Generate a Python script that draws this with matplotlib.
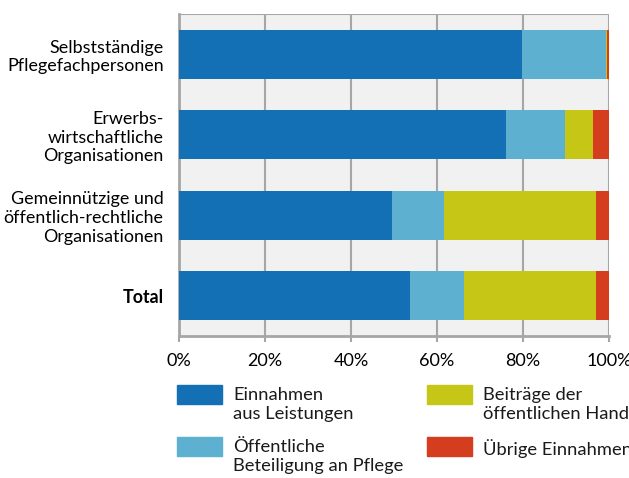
import matplotlib.pyplot as plt
from matplotlib.patches import Rectangle

plt.rcParams['font.family'] = ['Lato', 'DejaVu Sans']

# Kategorien (von oben nach unten)
kategorien = ["Selbstständige\nPflegefachpersonen",
              "Erwerbs-\nwirtschaftliche\nOrganisationen",
              "Gemeinnützige und\nöffentlich-rechtliche\nOrganisationen",
              "Total"]

# Anteile in %
einnahmen_leistungen = [79.8, 76.0, 49.5, 53.7]
oeffentl_beteiligung = [19.4, 13.8, 12.1, 12.6]
beitraege_hand = [0.3, 6.5, 35.4, 30.7]
uebrige = [0.5, 3.7, 3.0, 3.0]

serien = ["Einnahmen\naus Leistungen",
          "Öffentliche\nBeteiligung an Pflege",
          "Beiträge der\nöffentlichen Hand",
          "Übrige Einnahmen"]
farben = ["#1470b4", "#5db0d0", "#c6c617", "#d43d1e"]

W, H = 629, 478
fig = plt.figure(figsize=(W / 100, H / 100), dpi=100)
ax = fig.add_axes([179 / W, 1 - 336 / H, 430 / W, 322 / H])
ax.set_facecolor("#f0f1f0")

pos = list(range(len(kategorien)))
links = [0] * len(kategorien)
for werte, farbe in zip([einnahmen_leistungen, oeffentl_beteiligung, beitraege_hand, uebrige], farben):
    ax.barh(pos, werte, left=links, height=0.61, color=farbe, zorder=3)
    links = [l + w for l, w in zip(links, werte)]

ax.set_xlim(0, 100)
ax.set_ylim(3.5, -0.5)
ax.set_xticks([0, 20, 40, 60, 80, 100])
ax.set_xticklabels(["0%", "20%", "40%", "60%", "80%", "100%"], fontsize=13)
ax.set_yticks(pos)
ax.set_yticklabels(kategorien, fontsize=12.9, multialignment="right", linespacing=1.2)
ax.get_yticklabels()[3].set_fontweight("bold")
ax.tick_params(axis="y", length=0, pad=11)
ax.tick_params(axis="x", length=4, width=1.5, color="#a6a6a6", pad=8)
ax.grid(axis="x", color="#a6a6a6", linewidth=1.5, zorder=1)
for s in ["top", "right"]:
    ax.spines[s].set_visible(False)
ax.spines["left"].set_color("#a6a6a6")
ax.spines["left"].set_linewidth(2)
ax.spines["bottom"].set_color("#a6a6a6")
ax.spines["bottom"].set_linewidth(2)
ax.axhline(-0.5, color="#a6a6a6", linewidth=1.5, zorder=2)

# Legende manuell
plaetze = [(177, 385), (177, 437), (427, 385), (427, 437)]
for (x, y), name, farbe in zip(plaetze, serien, farben):
    fig.patches.append(Rectangle((x / W, 1 - (y + 19) / H), 45 / W, 19 / H,
                                 transform=fig.transFigure, color=farbe))
    fig.text((x + 56) / W, 1 - (y + 2) / H, name, fontsize=13.2, va="top",
             ha="left", linespacing=1.25, color="#1a1a1a")

fig.savefig("out.png", dpi=100)
